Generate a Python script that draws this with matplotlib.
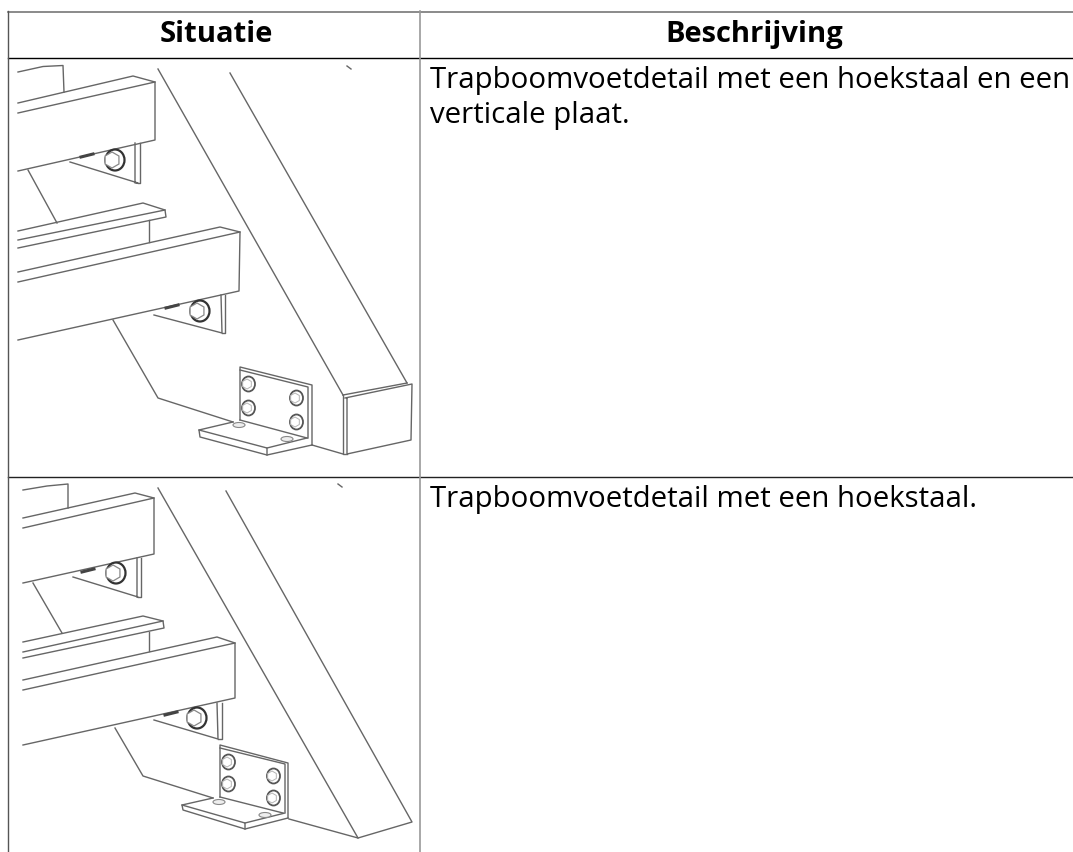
# Table with two rows, left column holds line drawings of the stair foot detail

from matplotlib import pyplot as plt
from matplotlib.patches import Ellipse, RegularPolygon

headers = ['Situatie', 'Beschrijving']
row_1_text = ['Trapboomvoetdetail met een hoekstaal en een', 'verticale plaat.']
row_2_text = ['Trapboomvoetdetail met een hoekstaal.']

# Drawing 1, polylines in picture pixels
lines_1 = [
    [(18, 72), (43, 66.5), (63, 65.5), (64, 92)],
    [(18, 103), (133, 76), (155, 82), (155, 140), (18, 171)],
    [(18, 113), (155, 82)],
    [(70, 162), (138, 183), (135, 183), (135, 143)],
    [(138, 183), (140, 183), (140, 143)],
    [(28, 170), (57, 223)],
    [(18, 231), (143, 203), (165, 210), (166, 217), (18, 248)],
    [(18, 240), (165, 210)],
    [(149, 220), (149, 242)],
    [(18, 272), (220, 227), (240, 232), (239, 291), (18, 340)],
    [(18, 282), (240, 232)],
    [(154, 315), (222, 333), (221, 295)],
    [(222, 333), (225, 333), (225, 295)],
    [(113, 320), (158, 398), (233, 422)],
    [(158, 69), (343, 395)],
    [(230, 73), (407, 383)],
    [(347, 66), (351, 69)],
    [(343, 395), (407, 383)],
    [(345, 398), (412, 384), (411, 440), (347, 454), (347, 398)],
    [(343, 395), (343, 454), (347, 454)],
    [(312, 445), (343, 454)],
    [(240, 420), (240, 367), (312, 385), (312, 445)],
    [(240, 370), (308, 387), (308, 438)],
    [(240, 420), (307, 438)],
    [(233, 422), (199, 430), (200, 437), (267, 455), (312, 445)],
    [(199, 430), (267, 448), (267, 455)],
    [(267, 448), (307, 438)],
]
big_bolts_1 = [(113, 160), (198, 311)]
small_bolts_1 = [(87, 156), (172, 307)]
plate_bolts_1 = [(248, 384), (248, 408), (296, 398), (296, 422)]
holes_1 = [(239, 425), (287, 439)]

# Drawing 2
lines_2 = [
    [(23, 490), (47, 486), (68, 484), (68, 508)],
    [(23, 518), (135, 493), (154, 498), (154, 554), (23, 583)],
    [(23, 528), (154, 498)],
    [(73, 577), (138, 597), (137, 597), (137, 558)],
    [(138, 597), (141, 597), (141, 558)],
    [(33, 583), (62, 633)],
    [(23, 642), (143, 616), (163, 621), (164, 628), (23, 658)],
    [(23, 652), (163, 621)],
    [(149, 632), (149, 651)],
    [(23, 680), (217, 637), (235, 643), (235, 698), (23, 745)],
    [(23, 690), (235, 643)],
    [(154, 720), (218, 739), (217, 703)],
    [(218, 739), (222, 739), (222, 703)],
    [(115, 728), (143, 776), (213, 798)],
    [(158, 488), (358, 838)],
    [(226, 491), (412, 822), (358, 838), (289, 819)],
    [(338, 484), (342, 487)],
    [(220, 797), (220, 745), (288, 763), (288, 818)],
    [(220, 748), (285, 764), (285, 812)],
    [(220, 797), (283, 813)],
    [(213, 798), (182, 805), (183, 810), (245, 829), (288, 818)],
    [(182, 805), (245, 823), (245, 829)],
    [(245, 823), (285, 813)],
]
big_bolts_2 = [(114, 573), (195, 718)]
small_bolts_2 = [(88, 571), (171, 714)]
plate_bolts_2 = [(228, 762), (228, 784), (273, 776), (273, 798)]
holes_2 = [(219, 802), (265, 815)]

plt.rcParams['font.family'] = ['Open Sans', 'Noto Sans', 'DejaVu Sans']
fig = plt.figure(figsize=(10.73, 8.52), dpi=100)
ax = fig.add_axes([0, 0, 1, 1])
ax.set_xlim(0, 1073)
ax.set_ylim(852, 0)
ax.axis('off')

line_col = '#666666'


def draw_detail(lines, big_bolts, small_bolts, plate_bolts, holes):
    for pts in lines:
        ax.plot([p[0] for p in pts], [p[1] for p in pts], color=line_col, lw=1.0,
                solid_joinstyle='round', zorder=2)
    for x, y in big_bolts:
        ax.add_patch(Ellipse((x + 2, y), 19, 21, fc='white', ec='#333333', lw=1.6, zorder=3))
        ax.add_patch(RegularPolygon((x - 1, y), 6, radius=8, fc='white', ec='#888888', lw=0.9, zorder=4))
    for x, y in small_bolts:
        ax.plot([x - 6, x + 6], [y + 1, y - 2], color='#444444', lw=2.2, zorder=3)
    for x, y in plate_bolts:
        ax.add_patch(Ellipse((x + 0.5, y), 13, 15, fc='white', ec='#555555', lw=1.3, zorder=3))
        ax.add_patch(RegularPolygon((x - 1, y), 6, radius=5, fc='white', ec='#b5b5b5', lw=0.7, zorder=4))
    for x, y in holes:
        ax.add_patch(Ellipse((x, y), 12, 5, fc='#eeeeee', ec='#888888', lw=0.8, zorder=3))


draw_detail(lines_1, big_bolts_1, small_bolts_1, plate_bolts_1, holes_1)
draw_detail(lines_2, big_bolts_2, small_bolts_2, plate_bolts_2, holes_2)

# Table grid
ax.plot([7.5, 1073], [11.5, 11.5], color='#777777', lw=1.2)
ax.plot([7.5, 1073], [57.5, 57.5], color='black', lw=1)
ax.plot([7.5, 1073], [476.5, 476.5], color='#222222', lw=1)
ax.plot([7.5, 7.5], [11, 852], color='#555555', lw=1)
ax.plot([420, 420], [11, 852], color='#999999', lw=1.2)

# Texts
ax.text(216, 41.7, headers[0], fontsize=21, fontweight='bold', ha='center', va='baseline')
ax.text(754, 41.7, headers[1], fontsize=21, fontweight='bold', ha='center', va='baseline')
ax.text(429.5, 87.7, row_1_text[0], fontsize=21.15, ha='left', va='baseline')
ax.text(429.5, 123, row_1_text[1], fontsize=21.15, ha='left', va='baseline')
ax.text(429.5, 506.7, row_2_text[0], fontsize=21.15, ha='left', va='baseline')

plt.savefig('out.png', dpi=100)
